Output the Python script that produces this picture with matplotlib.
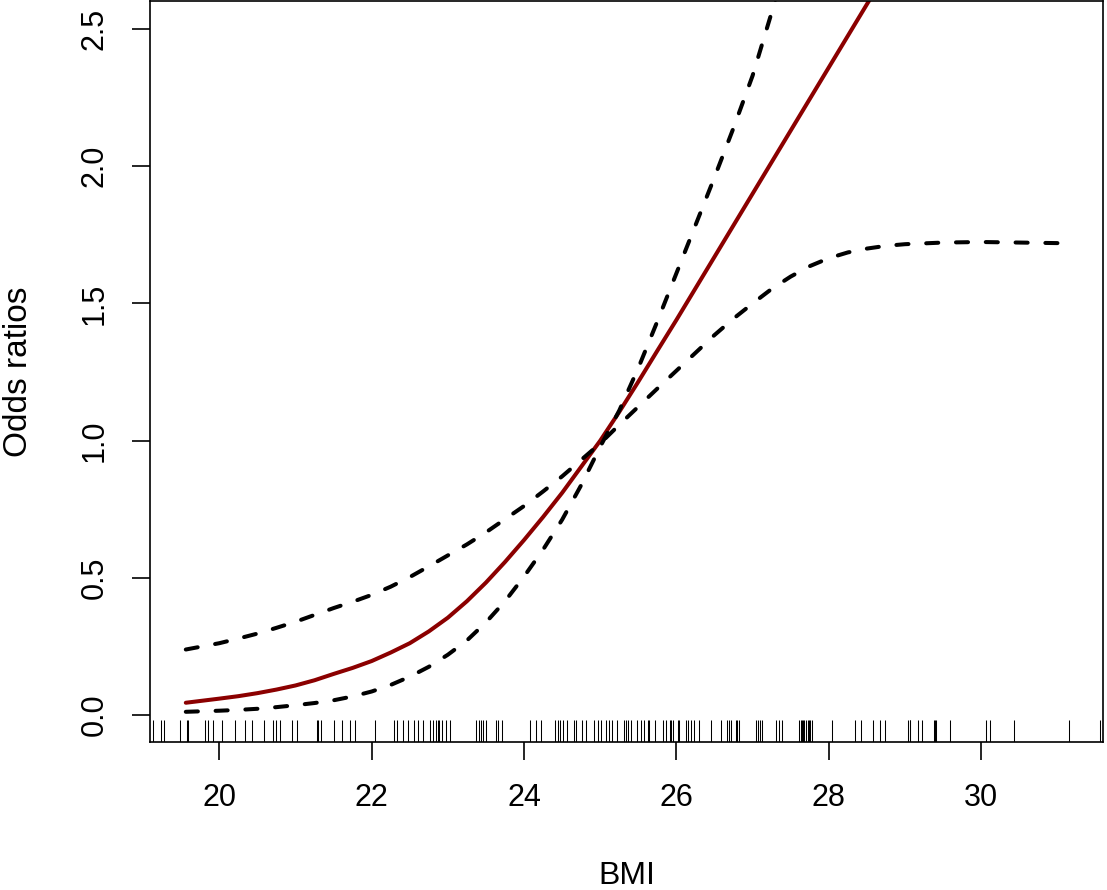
import matplotlib
matplotlib.use("Agg")
from matplotlib import pyplot as plt

plt.rcParams['font.family'] = ['Liberation Sans', 'DejaVu Sans']

# fitted curve (odds ratio vs BMI) and its confidence band
bmi = [19.56, 20.0, 20.25, 20.5, 20.75, 21.0, 21.25, 21.5, 21.75, 22.0, 22.25, 22.5,
       22.75, 23.0, 23.25, 23.5, 23.75, 24.0, 24.25, 24.5, 24.75, 25.0, 25.25, 25.5,
       25.75, 26.0, 26.25, 26.5, 26.75, 27.0, 27.25, 27.5, 27.75, 28.0, 28.25, 28.5,
       28.75, 29.0, 29.5, 30.0, 30.5, 31.0, 31.15]
odds = [0.045, 0.060, 0.069, 0.080, 0.093, 0.108, 0.127, 0.150, 0.172, 0.197, 0.228, 0.262,
        0.305, 0.355, 0.415, 0.483, 0.558, 0.638, 0.722, 0.810, 0.905, 1.0, 1.105, 1.215,
        1.328, 1.44, 1.555, 1.67, 1.785, 1.90, 2.015, 2.13, 2.245, 2.36, 2.475, 2.59,
        2.705, 2.82, 3.05, 3.28, 3.51, 3.74, 3.81]
ci_upper = [0.012, 0.016, 0.019, 0.023, 0.029, 0.036, 0.044, 0.054, 0.068, 0.086, 0.110, 0.140,
            0.176, 0.220, 0.272, 0.338, 0.415, 0.505, 0.603, 0.712, 0.838, 0.978, 1.11, 1.265,
            1.435, 1.61, 1.785, 1.96, 2.14, 2.33, 2.56, 2.80, 3.05, 3.30, 3.55, 3.80,
            4.05, 4.30, 4.80, 5.30, 5.80, 6.30, 6.45]
ci_lower = [0.239, 0.262, 0.279, 0.297, 0.318, 0.340, 0.365, 0.390, 0.413, 0.438, 0.468, 0.503,
            0.542, 0.582, 0.622, 0.666, 0.714, 0.762, 0.815, 0.870, 0.930, 0.990, 1.058, 1.124,
            1.19, 1.255, 1.32, 1.385, 1.445, 1.50, 1.553, 1.598, 1.636, 1.665, 1.686, 1.70,
            1.710, 1.716, 1.722, 1.724, 1.722, 1.720, 1.718]

# rug of observed BMI values
rug_bmi = [19.13, 19.23, 19.27, 19.49, 19.57, 19.59, 19.81, 19.85, 19.92, 20.03, 20.21, 20.34,
           20.43, 20.59, 20.70, 20.75, 20.80, 20.96, 21.02, 21.28, 21.30, 21.33, 21.51, 21.61,
           21.72, 21.78, 22.04, 22.29, 22.33, 22.41, 22.48, 22.55, 22.61, 22.68, 22.77, 22.81,
           22.84, 22.87, 22.89, 22.92, 22.98, 23.03,
           23.37, 23.41, 23.43, 23.46, 23.50, 23.63, 23.66, 23.71, 24.08, 24.16, 24.22, 24.40,
           24.45, 24.47, 24.51, 24.57, 24.65, 24.68, 24.76, 24.81, 24.92, 24.97, 25.01, 25.08,
           25.12, 25.16, 25.22, 25.31, 25.34, 25.36, 25.40, 25.48, 25.53, 25.58, 25.63, 25.64,
           25.72, 25.83, 25.86, 25.91, 25.93, 25.96, 26.02, 26.04, 26.12, 26.15, 26.19, 26.23,
           26.30, 26.45, 26.58, 26.67, 26.69, 26.72, 26.78, 26.80, 26.82, 27.04, 27.07, 27.10,
           27.13, 27.31, 27.35, 27.39,
           27.61, 27.63, 27.65, 27.66, 27.68, 27.70, 27.73, 27.74, 27.76, 27.78, 28.04, 28.34,
           28.42, 28.58, 28.67, 28.74, 29.04, 29.06, 29.07, 29.17, 29.23, 29.38, 29.40, 29.41,
           29.59, 30.07, 30.11, 30.43, 31.15, 31.56]

x_ticks = [20, 22, 24, 26, 28, 30]
y_ticks = [0.0, 0.5, 1.0, 1.5, 2.0, 2.5]

fig = plt.figure(figsize=(11.07, 8.90), dpi=100)
ax = fig.add_axes([0.1355, 0.1663, 0.8609, 0.8325])

ax.plot(bmi, odds, color="#8b0000", lw=2.9, solid_capstyle="round",
        solid_joinstyle="round")
for band in (ci_upper, ci_lower):
    ax.plot(bmi, band, color="black", lw=2.9, dashes=(3.0, 4.4),
            dash_capstyle="round", dash_joinstyle="round")

# rug along the bottom axis (3% of the plot height, like R's rug())
ax.vlines(rug_bmi, 0, 0.03, transform=ax.get_xaxis_transform(),
          color="black", lw=0.75)

ax.set_xlim(19.09, 31.60)
ax.set_ylim(-0.098, 2.602)
ax.set_xticks(x_ticks)
ax.set_xticklabels([str(t) for t in x_ticks])
ax.set_yticks(y_ticks)
ax.set_yticklabels(["%.1f" % t for t in y_ticks], rotation=90, va="center")

for s in ax.spines.values():
    s.set_linewidth(1.2)
ax.tick_params(direction="out", length=13.3, width=1.2, labelsize=22, pad=16)

ax.set_xlabel("BMI", fontsize=23, va="center")
ax.xaxis.set_label_coords(0.5, -0.1806)
ax.set_ylabel("Odds ratios", fontsize=24, va="center")
ax.yaxis.set_label_coords(-0.1385, 0.5)

fig.savefig("out.png", dpi=100)
